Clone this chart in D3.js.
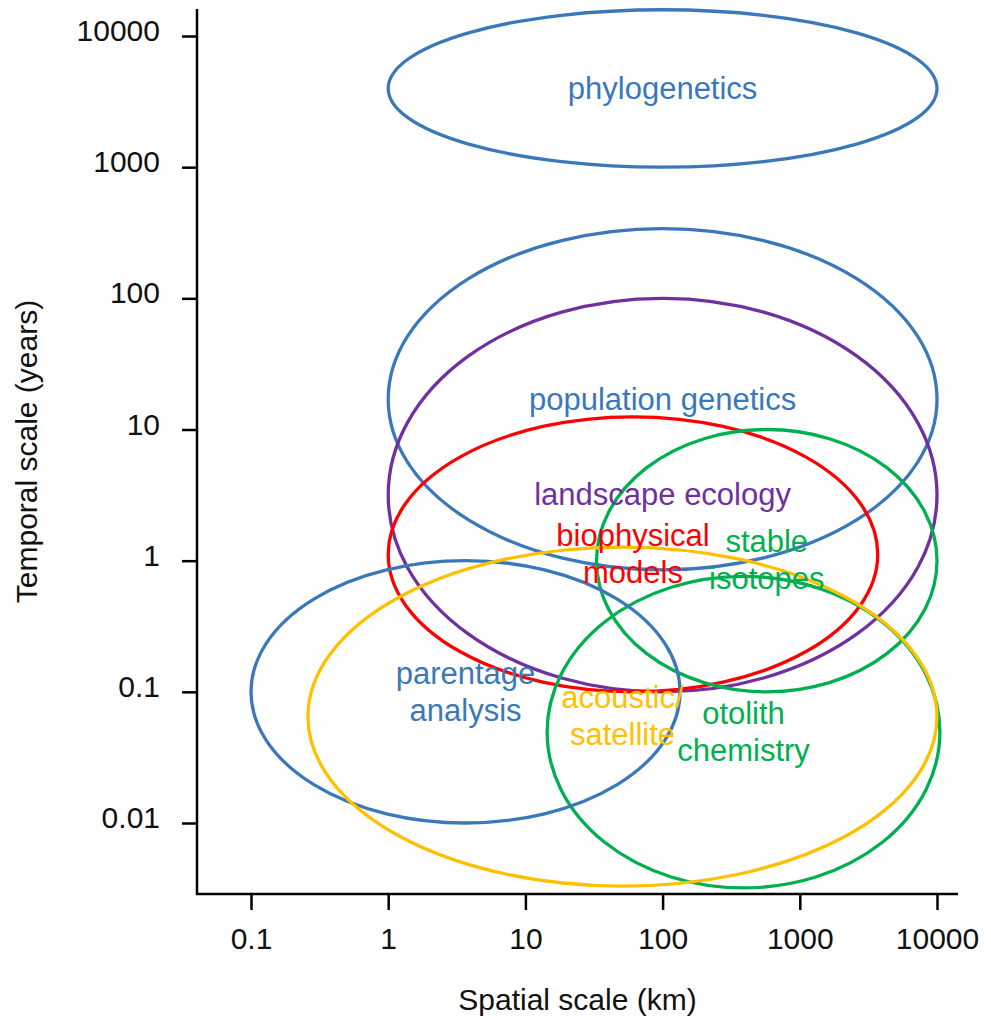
<!DOCTYPE html>
<html>
<head>
<meta charset="utf-8">
<script src="https://cdn.jsdelivr.net/npm/d3@7"></script>
<style>
  body { margin: 0; background: #fff; }
  svg { display: block; font-family: Arial, "Liberation Sans", sans-serif; }
</style>
</head>
<body>
<div id="chart"></div>
<script>
// methods and the spatial (km) / temporal (years) range each one covers
const methods = ["phylogenetics", "population genetics", "landscape ecology", "biophysical models",
                 "stable isotopes", "otolith chemistry", "parentage analysis", "acoustic/satellite"];
const labelLines = [["phylogenetics"], ["population genetics"], ["landscape ecology"], ["biophysical", "models"],
                    ["stable", "isotopes"], ["otolith", "chemistry"], ["parentage", "analysis"], ["acoustic/", "satellite"]];
const spaceMin = [1, 1, 1, 1, 33, 14.4, 0.1, 0.26];
const spaceMax = [10000, 10000, 10000, 3700, 10000, 10500, 134, 10000];
const timeMin = [1000, 0.85, 0.1, 0.1, 0.1, 0.0032, 0.01, 0.0033];
const timeMax = [15850, 340, 100, 12.5, 10, 0.76, 1, 1.27];
const colors = ["#3a78b9", "#3a78b9", "#7030a0", "#ff0000", "#00b050", "#00b050", "#3a78b9", "#ffc000"];

const xTicks = [0.1, 1, 10, 100, 1000, 10000];
const yTicks = [0.01, 0.1, 1, 10, 100, 1000, 10000];

const width = 991, height = 1020;
// plot frame
const frame = { left: 197, right: 958, top: 9, bottom: 894 };

const svg = d3.select("#chart").append("svg")
    .attr("width", width)
    .attr("height", height);

const x = d3.scaleLog().domain([0.1, 10000]).range([251, 937]);
const y = d3.scaleLog().domain([0.01, 10000]).range([823, 36]);

const fmt = d => String(d);

// axes
const xAxis = svg.append("g")
    .attr("transform", `translate(0,${frame.bottom})`)
    .call(d3.axisBottom(x).tickValues(xTicks).tickFormat(fmt).tickSize(16).tickPadding(18));
const yAxis = svg.append("g")
    .attr("transform", `translate(${frame.left},0)`)
    .call(d3.axisLeft(y).tickValues(yTicks).tickFormat(fmt).tickSize(15).tickPadding(22));

[xAxis, yAxis].forEach(g => {
    g.select(".domain").remove();
    g.selectAll(".tick line").attr("stroke", "#000").attr("stroke-width", 2.5);
    g.selectAll(".tick text")
        .attr("fill", "#111")
        .style("font-size", "30px")
        .style("font-family", "Arial, 'Liberation Sans', sans-serif");
});
yAxis.selectAll(".tick text").attr("dy", "0.15em");

svg.append("path")
    .attr("d", `M${frame.left},${frame.top}V${frame.bottom}H${frame.right}`)
    .attr("fill", "none")
    .attr("stroke", "#000")
    .attr("stroke-width", 2.5);

// axis titles
svg.append("text")
    .attr("x", (frame.left + frame.right) / 2)
    .attr("y", 1010)
    .attr("text-anchor", "middle")
    .style("font-size", "30px")
    .attr("fill", "#111")
    .text("Spatial scale (km)");

svg.append("text")
    .attr("transform", `translate(37,${(frame.top + frame.bottom) / 2}) rotate(-90)`)
    .attr("text-anchor", "middle")
    .style("font-size", "30px")
    .attr("fill", "#111")
    .text("Temporal scale (years)");

// ellipses built from the log-scaled ranges
const items = methods.map((m, i) => {
    const x0 = x(spaceMin[i]), x1 = x(spaceMax[i]);
    const y0 = y(timeMax[i]), y1 = y(timeMin[i]);
    return {
        name: m,
        lines: labelLines[i],
        color: colors[i],
        cx: (x0 + x1) / 2, cy: (y0 + y1) / 2,
        rx: (x1 - x0) / 2, ry: (y1 - y0) / 2
    };
});

svg.append("g")
    .selectAll("ellipse")
    .data(items)
    .enter()
    .append("ellipse")
        .attr("cx", d => d.cx)
        .attr("cy", d => d.cy)
        .attr("rx", d => d.rx)
        .attr("ry", d => d.ry)
        .attr("fill", "none")
        .attr("stroke", d => d.color)
        .attr("stroke-width", 3.3);

// labels centred in each ellipse
const lineGap = 37;
const labels = svg.append("g")
    .selectAll("text")
    .data(items)
    .enter()
    .append("text")
        .attr("text-anchor", "middle")
        .attr("fill", d => d.color)
        .style("font-size", "31px");

labels.selectAll("tspan")
    .data(d => d.lines.map((t, k) => ({ t, k, n: d.lines.length, cx: d.cx, cy: d.cy })))
    .enter()
    .append("tspan")
        .attr("x", d => d.cx)
        .attr("y", d => d.cy + (d.k - (d.n - 1) / 2) * lineGap)
        .attr("dy", "0.33em")
        .text(d => d.t);
</script>
</body>
</html>
